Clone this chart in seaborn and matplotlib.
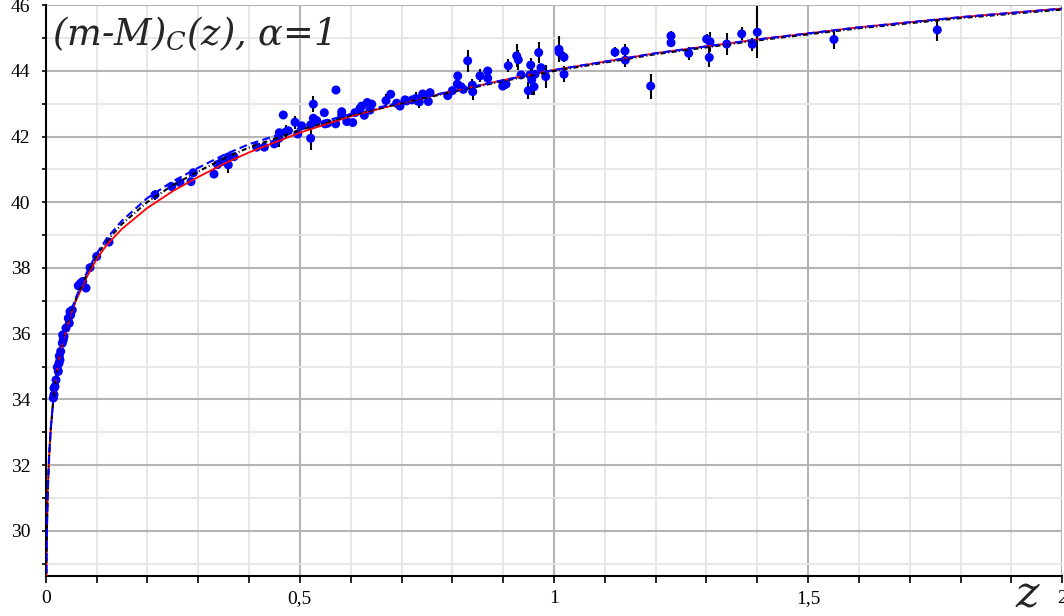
import matplotlib
matplotlib.use("Agg")
import matplotlib.pyplot as plt
from matplotlib.ticker import MultipleLocator, FuncFormatter
import seaborn as sns
import pandas as pd

# supernova points: redshift, distance modulus, error
z_sn = [0.0150, 0.0163, 0.0183, 0.0163, 0.0203, 0.0248, 0.0228, 0.0262, 0.0281, 0.0268,
        0.0295, 0.0327, 0.0346, 0.0360, 0.0334, 0.0399, 0.0464, 0.0445, 0.0492, 0.0478,
        0.0523, 0.0641, 0.0689, 0.0728, 0.0793, 0.0872, 0.1003, 0.1245, 0.2150, 0.2479,
        0.2642, 0.2859, 0.2904, 0.3311, 0.3380, 0.3463, 0.3592, 0.3586, 0.3704, 0.4151,
        0.4301, 0.4497, 0.4590, 0.4596, 0.4674, 0.4728, 0.4773, 0.4905, 0.4958, 0.5036,
        0.5213, 0.5213, 0.5265, 0.5265, 0.5332, 0.5481, 0.5495, 0.5548, 0.5711, 0.5705,
        0.5823, 0.5823, 0.5922, 0.6040, 0.6085, 0.6183, 0.6217, 0.6268, 0.6327, 0.6380,
        0.6414, 0.6695, 0.6787, 0.6905, 0.6970, 0.7069, 0.7102, 0.7212, 0.7279, 0.7350,
        0.7417, 0.7527, 0.7561, 0.7909, 0.7999, 0.8106, 0.8098, 0.8170, 0.8216, 0.8302,
        0.8393, 0.8401, 0.8544, 0.8696, 0.8696, 0.8991, 0.9056, 0.9101, 0.9266, 0.9298,
        0.9351, 0.9494, 0.9528, 0.9542, 0.9561, 0.9607, 0.9626, 0.9699, 0.9744, 0.9837,
        1.0098, 1.0104, 1.0197, 1.0197, 1.1200, 1.1397, 1.1403, 1.1902, 1.2302, 1.2302,
        1.2650, 1.3004, 1.3055, 1.3069, 1.3398, 1.3693, 1.3901, 1.4000, 1.5508, 1.7541]
mu_sn = [34.04, 34.14, 34.39, 34.34, 34.59, 34.85, 34.98, 35.10, 35.20, 35.32,
         35.46, 35.71, 35.81, 35.91, 35.96, 36.17, 36.32, 36.47, 36.57, 36.67,
         36.72, 37.46, 37.54, 37.59, 37.39, 38.01, 38.35, 38.79, 40.23, 40.48,
         40.60, 40.63, 40.90, 40.86, 41.15, 41.24, 41.14, 41.38, 41.39, 41.68,
         41.68, 41.78, 41.95, 42.12, 42.66, 42.15, 42.18, 42.44, 42.08, 42.33,
         41.95, 42.36, 42.99, 42.56, 42.49, 42.73, 42.39, 42.41, 43.42, 42.39,
         42.76, 42.66, 42.46, 42.43, 42.73, 42.86, 42.93, 42.65, 43.04, 42.81,
         42.99, 43.10, 43.29, 43.02, 42.93, 43.12, 43.09, 43.12, 43.16, 43.06,
         43.30, 43.07, 43.34, 43.25, 43.40, 43.85, 43.60, 43.52, 43.44, 44.31,
         43.57, 43.37, 43.85, 43.78, 44.00, 43.54, 43.60, 44.16, 44.46, 44.34,
         43.88, 43.40, 43.88, 44.18, 43.73, 43.52, 43.90, 44.56, 44.10, 43.83,
         44.66, 44.57, 44.42, 43.90, 44.57, 44.61, 44.33, 43.54, 45.07, 44.86,
         44.54, 44.97, 44.41, 44.89, 44.82, 45.13, 44.81, 45.18, 44.96, 45.25]
err_sn = [0.10, 0.10, 0.10, 0.10, 0.10, 0.10, 0.10, 0.10, 0.10, 0.10,
          0.10, 0.10, 0.10, 0.10, 0.10, 0.10, 0.10, 0.10, 0.10, 0.10,
          0.10, 0.10, 0.10, 0.10, 0.10, 0.10, 0.10, 0.10, 0.15, 0.10,
          0.10, 0.10, 0.10, 0.10, 0.10, 0.10, 0.25, 0.10, 0.10, 0.10,
          0.10, 0.10, 0.28, 0.10, 0.12, 0.20, 0.10, 0.20, 0.10, 0.10,
          0.35, 0.10, 0.25, 0.10, 0.10, 0.10, 0.10, 0.10, 0.12, 0.10,
          0.10, 0.10, 0.10, 0.10, 0.10, 0.20, 0.10, 0.10, 0.10, 0.10,
          0.10, 0.20, 0.10, 0.10, 0.10, 0.10, 0.10, 0.10, 0.20, 0.20,
          0.10, 0.10, 0.10, 0.10, 0.10, 0.10, 0.10, 0.10, 0.10, 0.33,
          0.20, 0.25, 0.20, 0.20, 0.10, 0.10, 0.15, 0.20, 0.35, 0.30,
          0.10, 0.25, 0.10, 0.20, 0.45, 0.25, 0.10, 0.33, 0.10, 0.35,
          0.40, 0.10, 0.15, 0.25, 0.15, 0.20, 0.20, 0.38, 0.15, 0.10,
          0.20, 0.15, 0.28, 0.30, 0.33, 0.20, 0.20, 0.80, 0.30, 0.33]

# model curves
z_curve = [0.0011, 0.0013, 0.0015, 0.002, 0.0025, 0.003, 0.004, 0.005, 0.007, 0.01,
           0.015, 0.02, 0.025, 0.03, 0.04, 0.05, 0.06, 0.08, 0.1, 0.12,
           0.15, 0.2, 0.25, 0.3, 0.35, 0.4, 0.5, 0.6, 0.7, 0.8,
           0.9, 1.0, 1.2, 1.4, 1.6, 1.8, 2.0]
mu_red = [28.35, 28.72, 29.0, 29.62, 30.1, 30.5, 31.12, 31.6, 32.33, 33.1,
          33.98, 34.6, 35.1, 35.5, 36.12, 36.6, 37.02, 37.7, 38.27, 38.7,
          39.19, 39.83, 40.34, 40.77, 41.17, 41.52, 42.12, 42.62, 43.02, 43.38,
          43.72, 44.03, 44.54, 44.96, 45.33, 45.64, 45.9]
mu_black = [28.35, 28.72, 29.0, 29.62, 30.1, 30.5, 31.12, 31.6, 32.34, 33.11,
            33.99, 34.62, 35.12, 35.53, 36.16, 36.65, 37.08, 37.78, 38.37, 38.82,
            39.34, 40.01, 40.52, 40.94, 41.33, 41.67, 42.2, 42.65, 43.02, 43.36,
            43.69, 44.0, 44.51, 44.93, 45.3, 45.61, 45.87]
mu_blue = [28.35, 28.72, 29.0, 29.62, 30.1, 30.5, 31.13, 31.61, 32.34, 33.12,
           34.0, 34.63, 35.14, 35.55, 36.19, 36.69, 37.12, 37.83, 38.43, 38.9,
           39.44, 40.13, 40.64, 41.05, 41.44, 41.77, 42.26, 42.69, 43.05, 43.39,
           43.72, 44.03, 44.54, 44.96, 45.33, 45.64, 45.9]

x_ticks = [0, 0.5, 1, 1.5, 2]
x_tick_labels = ['0', '0,5', '1', '1,5', '2']

sns.set_theme(style='white')
plt.rcParams['font.family'] = ['Liberation Serif', 'DejaVu Serif']
plt.rcParams['mathtext.fontset'] = 'dejavuserif'

fig = plt.figure(figsize=(10.64, 6.16), dpi=100)
ax = fig.add_axes([45.7 / 1064, 40 / 616, (1062.3 - 45.7) / 1064, (576 - 5.3) / 616])

df = pd.DataFrame({'z': z_sn, 'mu': mu_sn, 'err': err_sn})
curves = pd.DataFrame({'z': z_curve, 'red': mu_red, 'black': mu_black, 'blue': mu_blue})

ax.errorbar(df['z'], df['mu'], yerr=df['err'], fmt='none', ecolor='black',
            elinewidth=1.5, capsize=0, zorder=3)
sns.scatterplot(data=df, x='z', y='mu', color='#0000ff', s=42, edgecolor='none',
                zorder=4, ax=ax, legend=False)

sns.lineplot(data=curves, x='z', y='red', color='red', linewidth=1.3,
             estimator=None, sort=False, zorder=5, ax=ax)
sns.lineplot(data=curves, x='z', y='black', color='black', linewidth=1.5,
             linestyle=(0, (2.4, 1.2, 0.5, 1.2)),
             estimator=None, sort=False, zorder=6, ax=ax)
sns.lineplot(data=curves, x='z', y='blue', color='#0000ff', linewidth=1.5,
             linestyle=(0, (3.8, 2.0)),
             estimator=None, sort=False, zorder=7, ax=ax)

ax.set_xlim(0, 2)
ax.set_ylim(28.62, 46.0)
ax.xaxis.set_major_locator(MultipleLocator(0.5))
ax.xaxis.set_minor_locator(MultipleLocator(0.1))
ax.yaxis.set_major_locator(MultipleLocator(2))
ax.yaxis.set_minor_locator(MultipleLocator(1))
ax.set_xticks(x_ticks)
ax.xaxis.set_major_formatter(FuncFormatter(lambda v, p: x_tick_labels[x_ticks.index(v)] if v in x_ticks else ''))

ax.grid(True, which='major', color='#b4b4b4', linewidth=1.5)
ax.grid(True, which='minor', color='#e8e4e4', linewidth=1.3)
ax.set_axisbelow(True)

for side in ['top', 'right']:
    ax.spines[side].set_visible(False)
for side in ['left', 'bottom']:
    ax.spines[side].set_color('black')
    ax.spines[side].set_linewidth(1.5)

ax.tick_params(axis='x', which='both', direction='out', length=5, width=1.2,
               colors='black', labelsize=14, pad=5, bottom=True)
ax.tick_params(axis='y', which='both', direction='out', length=3, width=1.2,
               colors='black', labelsize=14, pad=8, left=True)

ax.set_xlabel('')
ax.set_ylabel('')

ax.text(0.006, 0.93, r'(m-M)$_C$(z), α=1', transform=ax.transAxes,
        fontsize=26.5, style='italic', family=['DejaVu Serif'], va='baseline', ha='left')
fig.text(1027 / 1064, 8 / 616, 'z', fontsize=32, style='italic',
         family=['DejaVu Serif'], va='baseline', ha='center')

fig.savefig('out.png', dpi=100)
